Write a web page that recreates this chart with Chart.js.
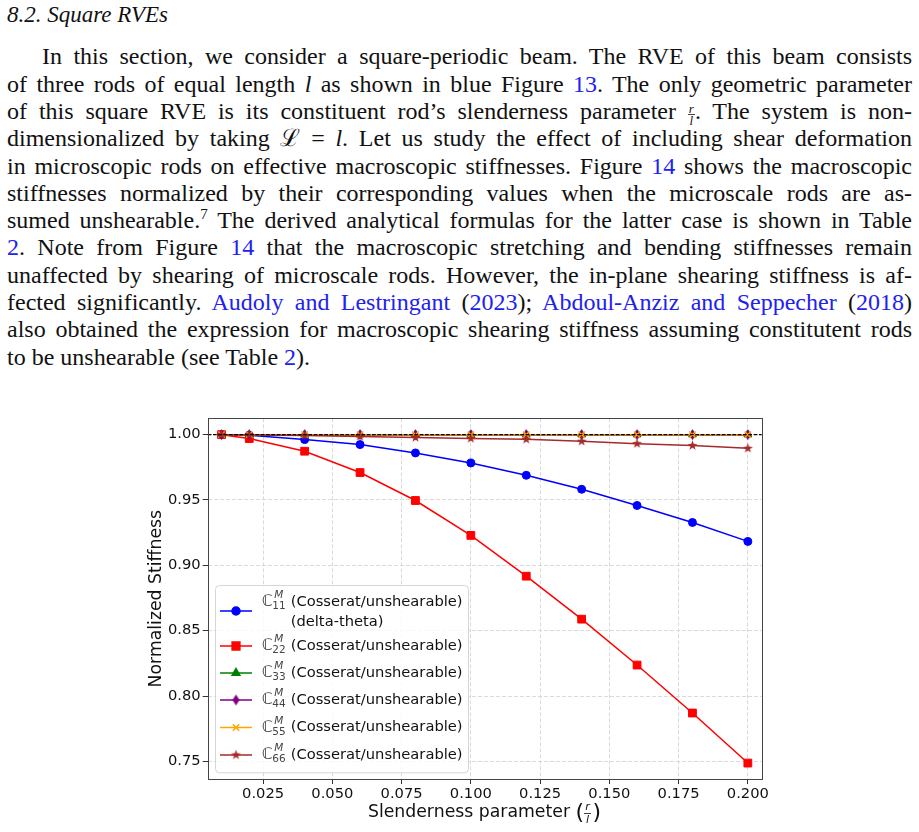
<!DOCTYPE html>
<html>
<head>
<meta charset="utf-8">
<script src="https://cdn.jsdelivr.net/npm/chart.js@4.4.1/dist/chart.umd.min.js"></script>
<style>
  html, body { margin: 0; padding: 0; background: #fff; }
  body { width: 919px; height: 832px; position: relative; overflow: hidden; }
  #text { position: absolute; left: 7px; top: 0; width: 905px; font-family: "Liberation Serif", serif; font-size: 24px; color: #111; }
  .head { position: absolute; left: 0; top: 1px; line-height: 27px; font-style: italic; font-size: 23px; }
  #para { position: absolute; left: 0; top: 43.4px; width: 905px; }
  .ln { height: 27.3px; line-height: 27.3px; text-align: justify; text-align-last: justify; }
  .ln.first { text-indent: 35px; }
  .ln.last { text-align-last: left; }
  a { color: #2121f0; text-decoration: none; }
  .fr { display: inline-block; vertical-align: -6px; font-size: 13px; line-height: 11px; font-style: italic; text-indent: 0; text-align-last: center; }
  .fr span { display: block; padding: 0 1px; }
  .fr span:first-child { border-bottom: 1px solid #444; }
  sup { font-size: 15px; line-height: 0; vertical-align: 9px; }
  #wrap { position: absolute; left: 0; top: 400px; width: 919px; height: 432px; }
</style>
</head>
<body>
<div id="text">
  <div class="head">8.2. Square RVEs</div>
  <div id="para">
    <div class="ln first">In this section, we consider a square-periodic beam. The RVE of this beam consists</div>
    <div class="ln">of three rods of equal length <i>l</i> as shown in blue Figure <a>13</a>. The only geometric parameter</div>
    <div class="ln">of this square RVE is its constituent rod’s slenderness parameter <span class="fr"><span>r</span><span>l</span></span>. The system is non-</div>
    <div class="ln">dimensionalized by taking ℒ = <i>l</i>. Let us study the effect of including shear deformation</div>
    <div class="ln">in microscopic rods on effective macroscopic stiffnesses. Figure <a>14</a> shows the macroscopic</div>
    <div class="ln">stiffnesses normalized by their corresponding values when the microscale rods are as-</div>
    <div class="ln">sumed unshearable.<sup>7</sup> The derived analytical formulas for the latter case is shown in Table</div>
    <div class="ln"><a>2</a>. Note from Figure <a>14</a> that the macroscopic stretching and bending stiffnesses remain</div>
    <div class="ln">unaffected by shearing of microscale rods. However, the in-plane shearing stiffness is af-</div>
    <div class="ln">fected significantly. <a>Audoly and Lestringant</a> (<a>2023</a>); <a>Abdoul-Anziz and Seppecher</a> (<a>2018</a>)</div>
    <div class="ln">also obtained the expression for macroscopic shearing stiffness assuming constitutent rods</div>
    <div class="ln last">to be unshearable (see Table <a>2</a>).</div>
  </div>
</div>
<div id="wrap"><canvas id="chart"></canvas></div>

<script>
// values
const slenderness = [0.01, 0.02, 0.04, 0.06, 0.08, 0.10, 0.12, 0.14, 0.16, 0.18, 0.20];
const c11 = [1.0, 0.9995, 0.9962, 0.9924, 0.986, 0.9783, 0.9689, 0.9582, 0.9458, 0.9328, 0.9183];
const c22 = [1.0, 0.997, 0.9873, 0.971, 0.9496, 0.9229, 0.8917, 0.8588, 0.8237, 0.787, 0.7487];
const c33 = [1.0, 1.0, 1.0, 1.0, 1.0, 1.0, 1.0, 1.0, 1.0, 1.0, 1.0];
const c44 = [1.0, 1.0, 1.0, 1.0, 1.0, 1.0, 1.0, 1.0, 1.0, 1.0, 1.0];
const c55 = [1.0, 1.0, 1.0, 1.0, 1.0, 1.0, 1.0, 1.0, 1.0, 1.0, 1.0];
const c66 = [1.0, 0.9998, 0.9993, 0.9986, 0.9978, 0.997, 0.9964, 0.9949, 0.9931, 0.9916, 0.9895];

const componentIndex = ['11', '22', '33', '44', '55', '66'];
const labelText = '(Cosserat/unshearable)';
const labelExtra = ['(delta-theta)', '', '', '', '', ''];
const xTicks = [0.025, 0.050, 0.075, 0.100, 0.125, 0.150, 0.175, 0.200];
const yTicks = [0.75, 0.80, 0.85, 0.90, 0.95, 1.00];
const referenceLevel = 1.0;

const FONT = '"DejaVu Sans", sans-serif';

function markerCanvas(w, h, draw) {
  const c = document.createElement('canvas');
  c.width = w; c.height = h;
  draw(c.getContext('2d'));
  return c;
}
const starMark = markerCanvas(13, 13, g => {
  g.fillStyle = '#a52a2a';
  g.beginPath();
  for (let i = 0; i < 10; i++) {
    const r = i % 2 ? 2.1 : 5.2;
    const a = -Math.PI / 2 + i * Math.PI / 5;
    g.lineTo(6.5 + r * Math.cos(a), 6.5 + r * Math.sin(a));
  }
  g.closePath();
  g.fill();
});
const thinDiamond = markerCanvas(11, 13, g => {
  g.fillStyle = '#800080';
  g.beginPath();
  g.moveTo(5.5, 1); g.lineTo(9, 6.5); g.lineTo(5.5, 12); g.lineTo(2, 6.5);
  g.closePath();
  g.fill();
});

const series = [c11, c22, c33, c44, c55, c66];
const looks = [
  { color: '#0000ff', point: 'circle', radius: 4 },
  { color: '#ff0000', point: 'rect', radius: 5.5 },
  { color: '#008000', point: 'triangle', radius: 4.5 },
  { color: '#800080', point: thinDiamond, radius: 5 },
  { color: '#ffa500', point: 'crossRot', radius: 4.5 },
  { color: '#a52a2a', point: starMark, radius: 5 }
];

const datasets = series.map((vals, i) => ({
  label: 'C' + componentIndex[i] + ' ' + labelText,
  data: slenderness.map((x, j) => ({ x: x, y: vals[j] })),
  borderColor: looks[i].color,
  backgroundColor: looks[i].color,
  borderWidth: 1.5,
  pointStyle: looks[i].point,
  pointRadius: looks[i].radius,
  pointBorderWidth: looks[i].point === 'crossRot' ? 1.5 : 1,
  pointHoverRadius: looks[i].radius,
  order: series.length - i
}));

// black dashed reference line, spines
const framePlugin = {
  id: 'frame',
  afterDatasetsDraw(chart) {
    const { ctx, chartArea: a, scales } = chart;
    const y = scales.y.getPixelForValue(referenceLevel);
    ctx.save();
    ctx.strokeStyle = '#000';
    ctx.lineWidth = 1.2;
    ctx.setLineDash([3.7, 1.6]);
    ctx.beginPath();
    ctx.moveTo(a.left, y);
    ctx.lineTo(a.right, y);
    ctx.stroke();
    ctx.setLineDash([]);
    ctx.strokeStyle = '#444';
    ctx.lineWidth = 1;
    ctx.strokeRect(Math.round(a.left) + 0.5, Math.round(a.top) + 0.5,
      Math.round(a.right - a.left), Math.round(a.bottom - a.top));
    ctx.restore();
  }
};

function drawComponent(ctx, x, y, idx) {
  ctx.fillStyle = '#444';
  ctx.font = '16px ' + FONT;
  ctx.fillText('ℂ', x, y);
  ctx.font = 'italic 10.5px ' + FONT;
  ctx.fillText('M', x + 12.5, y - 6.5);
  ctx.font = '10.5px ' + FONT;
  ctx.fillText(idx, x + 10.5, y + 4.5);
}

const legendPlugin = {
  id: 'mathLegend',
  afterDraw(chart) {
    const { ctx, chartArea: a } = chart;
    const left = a.left + 7.3, right = a.left + 260.3;
    const bottom = a.bottom - 6.7, top = bottom - 187.3;
    ctx.save();
    ctx.fillStyle = 'rgba(255,255,255,0.8)';
    ctx.strokeStyle = '#d6d6d6';
    ctx.lineWidth = 1;
    ctx.beginPath();
    ctx.roundRect(left + 0.5, top + 0.5, right - left, bottom - top, 4);
    ctx.fill();
    ctx.stroke();

    const rows = [26, 61, 88, 115, 142.5, 170];
    ctx.textBaseline = 'middle';
    datasets.forEach((ds, i) => {
      const ry = top + rows[i];
      const hx = left + 5, hw = 32;
      ctx.strokeStyle = ds.borderColor;
      ctx.lineWidth = 1.5;
      ctx.beginPath();
      ctx.moveTo(hx, ry);
      ctx.lineTo(hx + hw, ry);
      ctx.stroke();
      ctx.fillStyle = ds.backgroundColor;
      ctx.strokeStyle = ds.borderColor;
      Chart.helpers.drawPoint(ctx, {
        pointStyle: ds.pointStyle, rotation: 0,
        radius: ds.pointRadius, borderWidth: ds.pointBorderWidth
      }, hx + hw / 2, ry);

      const tx = left + 46.7;
      const lines = labelExtra[i] ? [ry - 9.3, ry + 10.7] : [ry];
      drawComponent(ctx, tx, lines[0], componentIndex[i]);
      ctx.fillStyle = '#111';
      ctx.font = '14.7px ' + FONT;
      ctx.fillText(labelText, tx + 29, lines[0]);
      if (labelExtra[i]) ctx.fillText(labelExtra[i], tx + 29, lines[1]);
    });
    ctx.restore();
  }
};

// x title with a stacked r/l fraction
const xTitlePlugin = {
  id: 'xTitle',
  afterDraw(chart) {
    const { ctx, chartArea: a } = chart;
    const main = 'Slenderness parameter ';
    ctx.save();
    ctx.font = '17.3px ' + FONT;
    const w = ctx.measureText(main).width;
    const fracW = 26;
    let x = (a.left + a.right) / 2 - (w + fracW) / 2;
    const y = a.bottom + 34;
    ctx.fillStyle = '#111';
    ctx.textBaseline = 'middle';
    ctx.fillText(main, x, y);
    x += w;
    ctx.font = '22px ' + FONT;
    ctx.fillText('(', x, y);
    ctx.fillText(')', x + 17, y);
    ctx.font = 'italic 11px ' + FONT;
    ctx.textAlign = 'center';
    ctx.fillText('r', x + 12, y - 6);
    ctx.fillText('l', x + 12, y + 7);
    ctx.fillRect(x + 8.5, y, 7, 0.8);
    ctx.restore();
  }
};

new Chart(document.getElementById('chart'), {
  type: 'line',
  data: { datasets: datasets },
  plugins: [framePlugin, legendPlugin, xTitlePlugin],
  options: {
    responsive: true,
    maintainAspectRatio: false,
    animation: false,
    layout: { padding: { left: 145, right: 157.3, top: 18.3, bottom: 0 } },
    plugins: { legend: { display: false }, tooltip: { enabled: false } },
    scales: {
      x: {
        type: 'linear',
        min: 0.005,
        max: 0.205,
        afterBuildTicks: s => { s.ticks = xTicks.map(v => ({ value: v })); },
        afterFit: s => { s.height = 53; },
        ticks: { callback: v => v.toFixed(3), color: '#111', padding: 1, maxRotation: 0, autoSkip: false, font: { family: FONT, size: 14.7 } },
        grid: { color: '#dadada', tickColor: '#333', tickLength: 5, tickWidth: 1 },
        border: { display: false, dash: [4, 2] }
      },
      y: {
        type: 'linear',
        min: 0.7365,
        max: 1.0125,
        afterBuildTicks: s => { s.ticks = yTicks.map(v => ({ value: v })); },
        afterFit: s => { s.width = 62.7; },
        ticks: { callback: v => v.toFixed(2), color: '#111', padding: 2, autoSkip: false, font: { family: FONT, size: 14.7 } },
        grid: { color: '#dadada', tickColor: '#333', tickLength: 5, tickWidth: 1 },
        border: { display: false, dash: [4, 2] },
        title: { display: true, text: 'Normalized Stiffness', color: '#111', padding: { top: 1, bottom: 0 }, font: { family: FONT, size: 17.3 } }
      }
    }
  }
});
</script>
</body>
</html>
